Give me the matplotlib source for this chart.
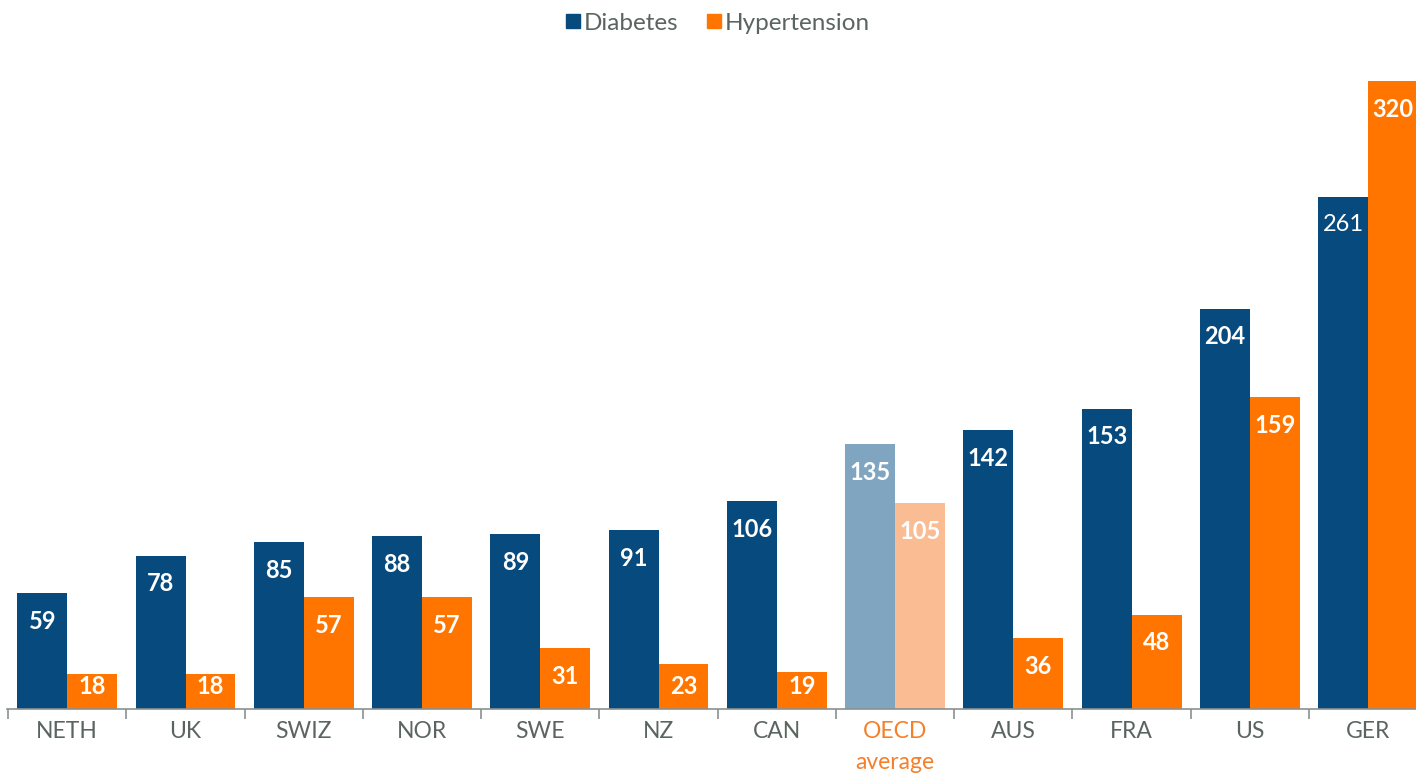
import numpy as np
import matplotlib.pyplot as plt
from matplotlib.patches import Patch

plt.rcParams['font.family'] = ['Lato', 'DejaVu Sans']

paises = ["NETH", "UK", "SWIZ", "NOR", "SWE", "NZ", "CAN", "OECD\naverage", "AUS", "FRA", "US", "GER"]
diabetes = [59, 78, 85, 88, 89, 91, 106, 135, 142, 153, 204, 261]
hipertension = [18, 18, 57, 57, 31, 23, 19, 105, 36, 48, 159, 320]

azul = "#064a7e"
naranja = "#ff7500"
azul_claro = "#80a5c0"
naranja_claro = "#f9bc93"
gris = "#5b6560"

fig = plt.figure(figsize=(14.16, 7.75), dpi=100)
ax = fig.add_axes([7 / 1416, 66 / 775, 1 - 7 / 1416, (709 - 50) / 775])

x = np.arange(len(paises))
w = 0.422
col_d = [azul_claro if "OECD" in p else azul for p in paises]
col_h = [naranja_claro if "OECD" in p else naranja for p in paises]
b1 = ax.bar(x - w / 2, diabetes, w, color=col_d)
b2 = ax.bar(x + w / 2, hipertension, w, color=col_h)

# etiquetas dentro de las barras (en barras cortas se quedan abajo)
for barras, vals in ((b1, diabetes), (b2, hipertension)):
    for b, v in zip(barras, vals):
        peso = "normal" if v == 261 else "bold"
        ax.text(b.get_x() + b.get_width() / 2, max(v - 14.3, 11.7), str(v),
                ha="center", va="center", color="white", fontsize=17, fontweight=peso)

ax.set_yticks([])
for s in ["top", "right", "left"]:
    ax.spines[s].set_visible(False)
ax.spines["bottom"].set_color("#8a9090")
ax.spines["bottom"].set_linewidth(1.2)

ax.set_xticks(x)
ax.set_xticklabels(paises, fontsize=16.5, color=gris, linespacing=1.55)
ax.tick_params(axis="x", length=0, pad=9)
ax.get_xticklabels()[7].set_color("#f57f2a")
ax.set_xticks(np.arange(len(paises) + 1) - 0.5, minor=True)
ax.tick_params(axis="x", which="minor", length=7, color="#8a9090", width=1.2)

ax.set_xlim(-0.51, 11.405)
ax.set_ylim(0, 335.8)

handles = [Patch(color=azul), Patch(color=naranja)]
fig.legend(handles, ["Diabetes", "Hypertension"], loc="upper center", bbox_to_anchor=(0.507, 1.012),
           ncol=2, frameon=False, fontsize=17.5, labelcolor=gris, handlelength=0.55,
           handleheight=0.55, handletextpad=0.15, columnspacing=1.2)

fig.savefig("out.png", dpi=100)
